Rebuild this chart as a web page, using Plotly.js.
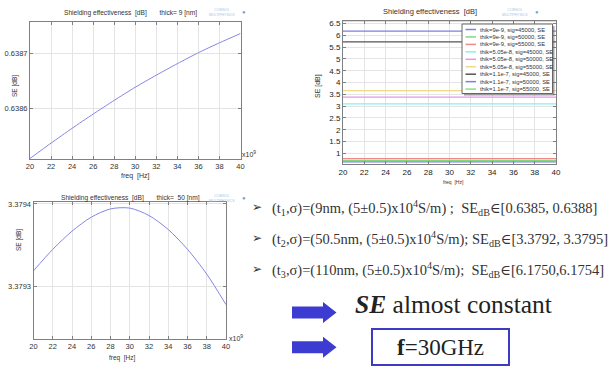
<!DOCTYPE html>
<html><head><meta charset="utf-8">
<script src="https://cdn.plot.ly/plotly-3.0.1.min.js"></script>
<style>html,body{margin:0;padding:0;background:#fff}#chart{width:608px;height:366px}</style>
</head><body><div id="chart"></div>
<script>
// ---------------- data ----------------
const freqGHz = [20, 22, 24, 26, 28, 30, 32, 34, 36, 38, 40];
const se9nm   = [0.638509, 0.638537, 0.638564, 0.638590, 0.638615, 0.638639, 0.638661, 0.638682, 0.638702, 0.638720, 0.638737];
const se50nm  = [3.379319, 3.379345, 3.379367, 3.379384, 3.379394, 3.379395, 3.379386, 3.379369, 3.379345, 3.379315, 3.379278];
const sweepFreq = [20, 40];
const sweepNames = ['thik=9e-9, sig=45000, SE','thik=9e-9, sig=50000, SE','thik=9e-9, sig=55000, SE',
  'thik=5.05e-8, sig=45000, SE','thik=5.05e-8, sig=50000, SE','thik=5.05e-8, sig=55000, SE',
  'thik=1.1e-7, sig=45000, SE','thik=1.1e-7, sig=50000, SE','thik=1.1e-7, sig=55000, SE'];
const sweepSE = [0.638, 0.707, 0.774, 3.096, 3.379, 3.660, 5.725, 6.175, 6.610];
const xTickVals = [20, 22, 24, 26, 28, 30, 32, 34, 36, 38, 40];
const yTick1 = [0.6386, 0.6387], yTick1Text = ['0.6386', '0.6387'];
const yTick2 = [1, 1.5, 2, 2.5, 3, 3.5, 4, 4.5, 5, 5.5, 6, 6.5];
const yTick2Text = ['1','1.5','2','2.5','3','3.5','4','4.5','5','5.5','6','6.5'];
const yTick3 = [3.3793, 3.3794], yTick3Text = ['3.3793', '3.3794'];
const bulletLines = [
  '(t<sub>1</sub>,σ)=(9nm, (5±0.5)x10<sup>4</sup>S/m) ;  SE<sub>dB</sub>∈[0.6385, 0.6388]',
  '(t<sub>2</sub>,σ)=(50.5nm, (5±0.5)x10<sup>4</sup>S/m); SE<sub>dB</sub>∈[3.3792, 3.3795]',
  '(t<sub>3</sub>,σ)=(110nm, (5±0.5)x10<sup>4</sup>S/m);  SE<sub>dB</sub>∈[6.1750,6.1754]'
];

// ---------------- styles ----------------
const sweepColors = ['#7f7fe0','#80d880','#f08a8a','#86f0f0','#e895e8','#f2d88a','#555555','#7f7fe0','#86e086'];
const curveColor = '#8585e2';
const W = 608, H = 366;
const PX = x => x / W, PY = y => 1 - y / H;
const sans = 'Liberation Sans, Arial, sans-serif';
const serif = 'Liberation Serif, DejaVu Serif, serif';

function axisBase(extra) {
  return Object.assign({
    showgrid: true, gridcolor: '#e4e4e4', gridwidth: 1, zeroline: false,
    showline: true, linecolor: '#808080', linewidth: 1, mirror: 'ticks',
    ticks: 'inside', ticklen: 3, tickcolor: '#808080',
    tickfont: {family: sans, size: 7.5, color: '#333'}, fixedrange: true
  }, extra);
}

const traces = [
  {x: freqGHz, y: se9nm, xaxis: 'x', yaxis: 'y', mode: 'lines',
   line: {color: curveColor, width: 1, shape: 'spline', smoothing: 0.6}, showlegend: false, hoverinfo: 'skip'},
  {x: freqGHz, y: se50nm, xaxis: 'x3', yaxis: 'y3', mode: 'lines',
   line: {color: curveColor, width: 1, shape: 'spline', smoothing: 0.8}, showlegend: false, hoverinfo: 'skip'}
];
sweepSE.forEach((v, i) => {
  traces.push({x: sweepFreq, y: [v, v], xaxis: 'x2', yaxis: 'y2', mode: 'lines', name: sweepNames[i],
    line: {color: sweepColors[i], width: 1.2}, showlegend: false, hoverinfo: 'skip'});
});

const shapes = [];
const annotations = [];

// legend of the sweep chart (drawn manually so it fits the small box)
shapes.push({type: 'rect', xref: 'paper', yref: 'paper', x0: PX(464), x1: PX(554.5), y0: PY(95.5), y1: PY(26),
  fillcolor: 'rgba(90,90,90,0.55)', line: {width: 0}});
shapes.push({type: 'rect', xref: 'paper', yref: 'paper', x0: PX(462), x1: PX(552.5), y0: PY(93.5), y1: PY(24),
  fillcolor: '#ffffff', line: {color: '#666', width: 1}});
sweepNames.forEach((n, i) => {
  const yy = 29.5 + i * 7.45;
  shapes.push({type: 'line', xref: 'paper', yref: 'paper', x0: PX(465.5), x1: PX(476), y0: PY(yy), y1: PY(yy),
    line: {color: sweepColors[i], width: 1.5}});
  annotations.push({xref: 'paper', yref: 'paper', x: PX(478), y: PY(yy), xanchor: 'left', yanchor: 'middle',
    text: n, showarrow: false, font: {family: sans, size: 5.8, color: '#333'}});
});

function txt(x, y, t, size, opts) {
  annotations.push(Object.assign({xref: 'paper', yref: 'paper', x: PX(x), y: PY(y), text: t, showarrow: false,
    xanchor: 'center', yanchor: 'middle', font: {family: sans, size: size, color: '#333'}}, opts || {}));
}
// chart titles and axis titles
txt(130, 13, 'Shielding effectiveness  [dB]       thick= 9 [nm]', 6.6);
txt(430, 11, 'Shielding effectiveness  [dB]', 7.5);
txt(130, 198, 'Shielding effectiveness  [dB]       thick=  50 [nm]', 6.6);
txt(135, 176, 'freq  [Hz]', 7);
txt(122, 358, 'freq  [Hz]', 6.5);
txt(453, 182, 'freq  [Hz]', 5);
txt(15, 86, 'SE [dB]', 6.5, {textangle: -90});
txt(318, 86, 'SE [dB]', 7, {textangle: -90});
txt(19, 240, 'SE [dB]', 6.5, {textangle: -90});
txt(249, 154, 'x10<sup>9</sup>', 7);
txt(236, 338, 'x10<sup>9</sup>', 7);
// faint logos
txt(222, 12, 'COMSOL<br>MULTIPHYSICS', 3.5, {font: {family: sans, size: 3.5, color: '#a9c4e6'}});
txt(515, 12, 'COMSOL<br>MULTIPHYSICS', 3.5, {font: {family: sans, size: 3.5, color: '#a9c4e6'}});
txt(222, 198, 'COMSOL<br>MULTIPHYSICS', 3.5, {font: {family: sans, size: 3.5, color: '#a9c4e6'}});
txt(244, 12, '●', 6, {font: {family: sans, size: 6, color: '#6fa6dc'}});
txt(537, 12, '●', 6, {font: {family: sans, size: 6, color: '#6fa6dc'}});
txt(244, 198, '●', 6, {font: {family: sans, size: 6, color: '#6fa6dc'}});

// bullet text
const lineY = [208, 238.5, 269.5];
bulletLines.forEach((t, i) => {
  txt(257, lineY[i] - 1, '➢', 12, {font: {family: 'DejaVu Sans', size: 12, color: '#333'}});
  txt(270, lineY[i], t, 14.5, {xanchor: 'left', font: {family: serif, size: 14.5, color: '#333'}});
});
txt(353, 304, '<b><i>SE</i></b> almost constant', 25.5, {xanchor: 'left', font: {family: serif, size: 25.5, color: '#222'}});
txt(440, 347, '<b>f</b>=30GHz', 23, {font: {family: serif, size: 23, color: '#222'}});

// box and arrows
shapes.push({type: 'rect', xref: 'paper', yref: 'paper', x0: PX(372), x1: PX(509), y0: PY(365), y1: PY(329),
  line: {color: '#3b3bc4', width: 2}, fillcolor: 'rgba(0,0,0,0)'});
function arrowPath(cy) {
  const pts = [[292, cy - 6], [323, cy - 6], [323, cy - 10.5], [336.5, cy], [323, cy + 10.5], [323, cy + 6], [292, cy + 6]];
  return 'M' + pts.map(p => PX(p[0]) + ',' + PY(p[1])).join(' L') + ' Z';
}
[312.5, 347.2].forEach(cy => shapes.push({type: 'path', xref: 'paper', yref: 'paper', path: arrowPath(cy),
  fillcolor: '#3c3cd2', line: {width: 0}}));

const layout = {
  width: W, height: H, margin: {l: 0, r: 0, t: 0, b: 0, pad: 0},
  paper_bgcolor: '#ffffff', plot_bgcolor: '#ffffff', showlegend: false,
  xaxis: axisBase({domain: [PX(30), PX(240.5)], anchor: 'y', range: [20, 40], tickvals: xTickVals}),
  yaxis: axisBase({domain: [PY(159), PY(22)], anchor: 'x', range: [0.638508, 0.638758], tickvals: yTick1, ticktext: yTick1Text}),
  xaxis2: axisBase({domain: [PX(343), PX(556)], anchor: 'y2', range: [20, 40], tickvals: xTickVals,
    tickfont: {family: sans, size: 8, color: '#222'}}),
  yaxis2: axisBase({domain: [PY(164), PY(20.7)], anchor: 'x2', range: [0.55, 6.62], tickvals: yTick2, ticktext: yTick2Text,
    tickfont: {family: sans, size: 8, color: '#222'}}),
  xaxis3: axisBase({domain: [PX(33.5), PX(226)], anchor: 'y3', range: [20, 40], tickvals: xTickVals}),
  yaxis3: axisBase({domain: [PY(339.3), PY(202.3)], anchor: 'x3', range: [3.379236, 3.379402], tickvals: yTick3, ticktext: yTick3Text}),
  shapes: shapes, annotations: annotations
};
Plotly.newPlot('chart', traces, layout, {displayModeBar: false, staticPlot: true});
</script></body></html>
